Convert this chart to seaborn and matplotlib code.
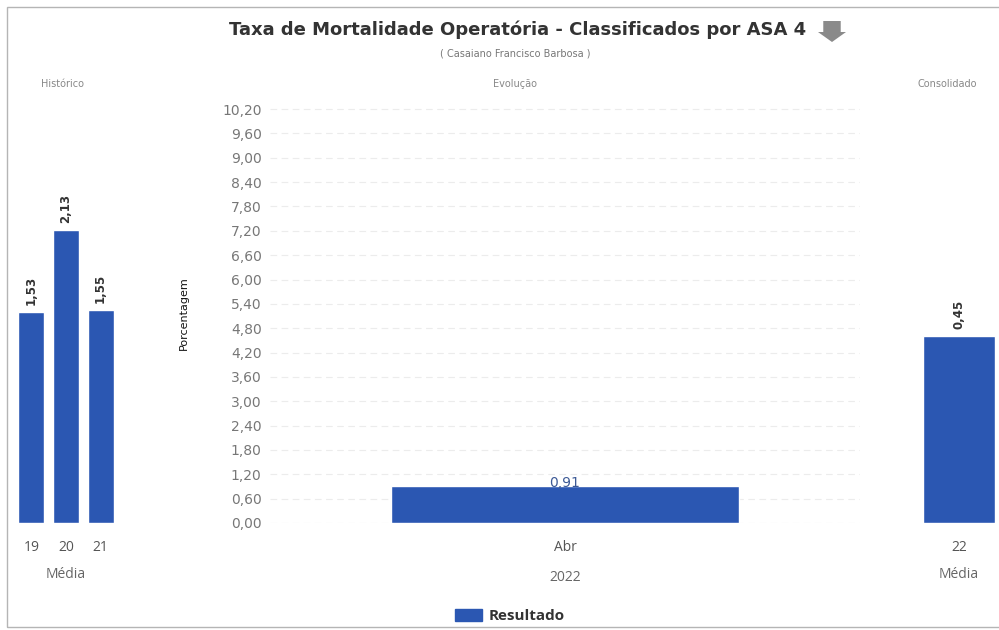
import matplotlib
matplotlib.use('Agg')
import matplotlib.pyplot as plt
import seaborn as sns
from matplotlib.patches import Patch, Rectangle, FancyArrow

# Données
hist_anos = ['19', '20', '21']
hist_valores = [1.53, 2.13, 1.55]
evol_meses = ['Abr']
evol_valores = [0.91]
evol_ano = '2022'
cons_anos = ['22']
cons_valores = [0.45]
y_ticks = [0.00, 0.60, 1.20, 1.80, 2.40, 3.00, 3.60, 4.20, 4.80, 5.40,
           6.00, 6.60, 7.20, 7.80, 8.40, 9.00, 9.60, 10.20]

titulo = 'Taxa de Mortalidade Operatória - Classificados por ASA 4'
subtitulo = '( Casaiano Francisco Barbosa )'

azul = '#2b57b2'


def br(v):
    return f'{v:.2f}'.replace('.', ',')


sns.set_theme(style='white')
plt.rcParams['font.family'] = ['DejaVu Sans']

W, H = 999, 630
fig = plt.figure(figsize=(9.99, 6.3), dpi=100)


def px_axes(x0, x1, y0, y1):
    return fig.add_axes([x0 / W, 1 - y1 / H, (x1 - x0) / W, (y1 - y0) / H])


ax_h = px_axes(14, 118, 103, 523)
ax_e = px_axes(270, 860, 103, 523)
ax_c = px_axes(918, 1000, 103, 523)

# Histórico
sns.barplot(x=hist_anos, y=hist_valores, color=azul, width=0.75, ax=ax_h, saturation=1)
ax_h.set_ylim(0, 3.05)
ax_h.bar_label(ax_h.containers[0], labels=[br(v) for v in hist_valores],
               rotation=90, fontsize=8.5, fontweight='bold', color='#333333', padding=5)
ax_h.set_yticks([])
ax_h.set_xlabel('Média', color='#666666', fontsize=10, family='Open Sans', labelpad=9)

# Evolução
sns.barplot(x=evol_meses, y=evol_valores, color=azul, width=0.59, ax=ax_e, saturation=1)
ax_e.set_xlim(-0.5, 0.5)
ax_e.set_ylim(0, 10.35)
ax_e.set_yticks(y_ticks)
ax_e.set_yticklabels([br(v) for v in y_ticks])
ax_e.tick_params(axis='y', labelsize=10, labelcolor='#777777', pad=6, length=0)
ax_e.grid(axis='y', color='#ececec', linestyle=(0, (6, 4)), linewidth=0.8)
ax_e.set_axisbelow(True)
ax_e.bar_label(ax_e.containers[0], labels=[br(v) for v in evol_valores],
               fontsize=10, color='#3d5a96', padding=-3)
ax_e.set_ylabel('Porcentagem', fontsize=8, color='#111111', labelpad=24)
ax_e.set_xlabel(evol_ano, color='#666666', fontsize=10, family='Open Sans', labelpad=11)

# Consolidado
sns.barplot(x=cons_anos, y=cons_valores, color=azul, width=0.89, ax=ax_c, saturation=1)
ax_c.set_ylim(0, 1.01)
ax_c.bar_label(ax_c.containers[0], labels=[br(v) for v in cons_valores],
               rotation=90, fontsize=8.5, fontweight='bold', color='#333333', padding=5)
ax_c.set_yticks([])
ax_c.set_xlabel('Média', color='#666666', fontsize=10, family='Open Sans', labelpad=9)

for ax in (ax_h, ax_e, ax_c):
    sns.despine(ax=ax, left=True, bottom=True)
    ax.tick_params(axis='x', labelsize=10, labelcolor='#555555', pad=12, length=0)
    for lbl in ax.get_xticklabels():
        lbl.set_family('Open Sans')
ax_h.set_ylabel('')
ax_c.set_ylabel('')

# Títulos
fig.text(518 / W, 1 - 30 / H, titulo, ha='center', va='center',
         fontsize=13, fontweight='bold', color='#333333')
fig.patches.append(FancyArrow(832 / W, 1 - 21 / H, 0, -11 / H, width=11 / H,
                              head_width=28 / W, head_length=10 / H,
                              length_includes_head=False, transform=fig.transFigure,
                              color='#8a8a8a', linewidth=0))
fig.text(515 / W, 1 - 53 / H, subtitulo, ha='center', va='center',
         fontsize=7, color='#777777')
fig.text(62 / W, 1 - 84 / H, 'Histórico', ha='center', va='center', fontsize=7, color='#888888')
fig.text(515 / W, 1 - 84 / H, 'Evolução', ha='center', va='center', fontsize=7, color='#888888')
fig.text(917 / W, 1 - 84 / H, 'Consolidado', ha='left', va='center', fontsize=7, color='#888888')

# Légende
fig.legend(handles=[Patch(color=azul)], labels=['Resultado'], loc='center',
           bbox_to_anchor=(510 / W, 1 - 616 / H), frameon=False,
           handlelength=1.75, handleheight=0.8, handletextpad=0.45,
           prop={'family': 'Open Sans', 'weight': 'bold', 'size': 11})
for t in fig.legends[0].get_texts():
    t.set_color('#333333')

# Cadre
fig.patches.append(Rectangle((7 / W, 3 / H), 1.0, 620 / H, transform=fig.transFigure,
                             fill=False, edgecolor='#b5b5b5', linewidth=1))

fig.savefig('out.png', dpi=100)
